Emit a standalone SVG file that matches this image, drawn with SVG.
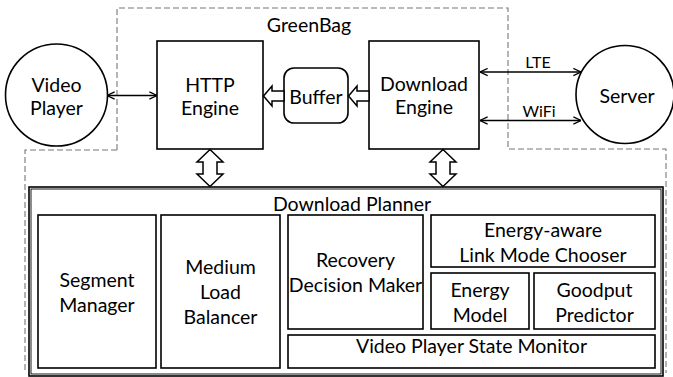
<svg xmlns="http://www.w3.org/2000/svg" width="673" height="377" viewBox="0 0 673 377">
<style>
text{font-family:Lato,"Liberation Sans",sans-serif;font-size:19.5px;fill:#000;text-anchor:middle}
.box{fill:#fff;stroke:#000;stroke-width:1.6}
.dash{fill:none;stroke:#777;stroke-width:1.1;stroke-dasharray:6 3}
.ln{fill:none;stroke:#000;stroke-width:1.5}
.hollow{fill:#fff;stroke:#000;stroke-width:1.5;stroke-linejoin:miter}
.sm{font-size:16px}
</style>
<defs>
<marker id="ah" viewBox="0 0 10 10" refX="9.5" refY="5" markerWidth="9" markerHeight="9" markerUnits="userSpaceOnUse" orient="auto-start-reverse">
<path d="M1,1 L9.5,5 L1,9" fill="none" stroke="#000" stroke-width="1.4"/>
</marker>
</defs>
<rect width="673" height="377" fill="#fff"/>
<g id="greenbag-boundary">
<path class="dash" d="M117,150 V8 H508 V149 H666 V373"/>
<path class="dash" d="M117,150 H25 V373"/>
<text x="309" y="32">GreenBag</text>
</g>
<g id="video-player">
<circle cx="56.5" cy="95" r="51" fill="#fff" stroke="#000" stroke-width="1.6"/>
<text x="56.5" y="92">Video</text>
<text x="56.5" y="115">Player</text>
</g>
<g id="server">
<circle cx="625" cy="94.5" r="49" fill="#fff" stroke="#000" stroke-width="1.6"/>
<text x="627" y="103">Server</text>
</g>
<g id="http-engine">
<rect class="box" x="157" y="41" width="106" height="108"/>
<text x="210" y="92">HTTP</text>
<text x="210" y="115">Engine</text>
</g>
<g id="buffer">
<rect class="box" x="284" y="68" width="64" height="55" rx="10"/>
<text x="316" y="104">Buffer</text>
</g>
<g id="download-engine">
<rect class="box" x="369" y="41" width="110" height="108"/>
<text x="424" y="91">Download</text>
<text x="424" y="114">Engine</text>
</g>
<g id="download-planner">
<rect class="box" x="29" y="187" width="634" height="189"/>
<rect x="31" y="189" width="630" height="185" fill="none" stroke="#000" stroke-width="0.9"/>
<text x="352" y="211">Download Planner</text>
</g>
<g id="segment-manager">
<rect class="box" x="38" y="215" width="118" height="153"/>
<text x="97" y="287">Segment</text>
<text x="97" y="312">Manager</text>
</g>
<g id="medium-load-balancer">
<rect class="box" x="161" y="215" width="119" height="153"/>
<text x="220.5" y="274">Medium</text>
<text x="220.5" y="299">Load</text>
<text x="220.5" y="324">Balancer</text>
</g>
<g id="recovery-decision-maker">
<rect class="box" x="288" y="215" width="135" height="114"/>
<text x="355.5" y="267">Recovery</text>
<text x="355.5" y="292">Decision Maker</text>
</g>
<g id="link-mode-chooser">
<rect class="box" x="431" y="215" width="224" height="52"/>
<text x="543" y="237">Energy-aware</text>
<text x="543" y="262">Link Mode Chooser</text>
</g>
<g id="energy-model">
<rect class="box" x="431" y="273" width="98" height="56"/>
<text x="480" y="297">Energy</text>
<text x="480" y="322">Model</text>
</g>
<g id="goodput-predictor">
<rect class="box" x="534" y="273" width="121" height="56"/>
<text x="594.5" y="297">Goodput</text>
<text x="594.5" y="322">Predictor</text>
</g>
<g id="video-player-state-monitor">
<rect class="box" x="288" y="335" width="367" height="33"/>
<text x="471.5" y="353">Video Player State Monitor</text>
</g>
<g id="connectors">
<line class="ln" x1="107" y1="95.5" x2="157" y2="95.5" marker-start="url(#ah)" marker-end="url(#ah)"/>
<line class="ln" x1="480" y1="72" x2="581" y2="72" marker-start="url(#ah)" marker-end="url(#ah)"/>
<line class="ln" x1="480" y1="120.5" x2="581" y2="120.5" marker-start="url(#ah)" marker-end="url(#ah)"/>
<text class="sm" x="538" y="68">LTE</text>
<text class="sm" x="539" y="117">WiFi</text>
<path class="hollow" d="M263.5,96 L272,86 V91 H284 V101 H272 V106 Z"/>
<path class="hollow" d="M348.5,96 L357,86 V91 H369 V101 H357 V106 Z"/>
<path class="hollow" d="M210,149.5 L223,162 H217 V174 H223 L210,186.5 L197,174 H203 V162 H197 Z"/>
<path class="hollow" d="M443,149.5 L456,162 H450 V174 H456 L443,186.5 L430,174 H436 V162 H430 Z"/>
</g>
</svg>
